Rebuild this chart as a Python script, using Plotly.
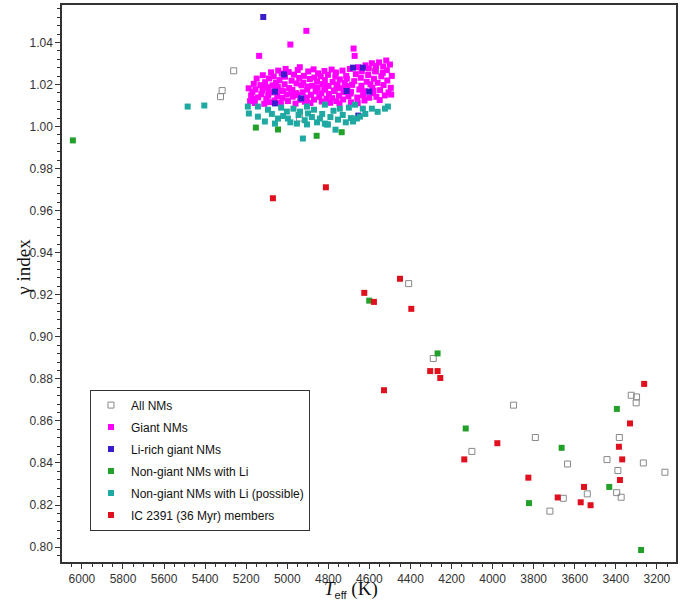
import plotly.graph_objects as go

# ---------------- data ----------------
all_teff = [5261, 5317, 5325, 4570, 4940, 4770, 4409, 4289, 3898, 3792, 4101, 3635, 3721, 3656,
            3539, 3443, 3383, 3390, 3396, 3374, 3325, 3299, 3301, 3266, 3161]
all_gamma = [1.0265, 1.0171, 1.0142, 1.0267, 1.0040, 1.0170, 0.9253, 0.8897, 0.8675, 0.8521, 0.8455,
             0.8395, 0.8171, 0.8232, 0.8253, 0.8416, 0.8521, 0.8364, 0.8259, 0.8237, 0.8722, 0.8714,
             0.8686, 0.8400, 0.8356]

giant_teff = [
    5188, 5176, 5181, 5163, 5170, 5158, 5149, 5155, 5142, 5137,
    5131, 5126, 5119, 5112, 5121, 5108, 5102, 5097, 5089, 5093,
    5084, 5079, 5072, 5081, 5066, 5061, 5055, 5058, 5049, 5044,
    5038, 5046, 5031, 5027, 5020, 5024, 5013, 5008, 5003, 5011,
    4997, 4991, 4985, 4993, 4979, 4973, 4967, 4975, 4960, 4955,
    4949, 4957, 4942, 4937, 4931, 4939, 4925, 4919, 4914, 4922,
    4907, 4903, 4898, 4905, 4890, 4885, 4879, 4887, 4872, 4868,
    4862, 4870, 4855, 4850, 4844, 4852, 4837, 4832, 4826, 4834,
    4819, 4815, 4809, 4817, 4802, 4797, 4791, 4799, 4784, 4779,
    4773, 4781, 4766, 4761, 4755, 4763, 4748, 4744, 4738, 4746,
    4731, 4726, 4720, 4728, 4713, 4708, 4702, 4710, 4695, 4690,
    4684, 4692, 4677, 4672, 4666, 4674, 4659, 4655, 4649, 4657,
    4642, 4637, 4631, 4639, 4624, 4619, 4613, 4621, 4606, 4601,
    4595, 4603, 4588, 4584, 4578, 4586, 4571, 4566, 4560, 4568,
    4553, 4548, 4542, 4550, 4535, 4531, 4525, 4533, 4518, 4513,
    4507, 4515, 4500, 4496, 4491, 4494, 5160, 5090, 4980, 4860,
    4760, 4640, 4900, 5030, 4820, 4710, 4580, 5110, 4950, 4690,
]
giant_gamma = [
    1.0182, 1.0148, 1.0121, 1.0203, 1.0165, 1.0112, 1.0228, 1.0176, 1.0139, 1.0336,
    1.0197, 1.0153, 1.0244, 1.0108, 1.0172, 1.0211, 1.0131, 1.0187, 1.0229, 1.0147,
    1.0116, 1.0258, 1.0196, 1.0162, 1.0238, 1.0124, 1.0207, 1.0178, 1.0145, 1.0266,
    1.0221, 1.0189, 1.0113, 1.0252, 1.0168, 1.0136, 1.0201, 1.0274, 1.0152, 1.0237,
    1.0121, 1.0183, 1.0390, 1.0259, 1.0218, 1.0142, 1.0247, 1.0174, 1.0109, 1.0205,
    1.0269, 1.0159, 1.0231, 1.0127, 1.0196, 1.0282, 1.0163, 1.0241, 1.0118, 1.0209,
    1.0455, 1.0176, 1.0262, 1.0138, 1.0226, 1.0151, 1.0194, 1.0112, 1.0272, 1.0233,
    1.0167, 1.0128, 1.0214, 1.0253, 1.0141, 1.0186, 1.0239, 1.0119, 1.0202, 1.0158,
    1.0264, 1.0178, 1.0132, 1.0221, 1.0246, 1.0155, 1.0113, 1.0193, 1.0271, 1.0212,
    1.0169, 1.0135, 1.0238, 1.0121, 1.0199, 1.0257, 1.0147, 1.0224, 1.0182, 1.0110,
    1.0266, 1.0163, 1.0208, 1.0129, 1.0241, 1.0187, 1.0144, 1.0228, 1.0274, 1.0115,
    1.0198, 1.0157, 1.0371, 1.0336, 1.0249, 1.0216, 1.0138, 1.0282, 1.0176, 1.0111,
    1.0232, 1.0263, 1.0149, 1.0194, 1.0124, 1.0291, 1.0213, 1.0168, 1.0245, 1.0137,
    1.0201, 1.0276, 1.0301, 1.0159, 1.0227, 1.0183, 1.0262, 1.0141, 1.0208, 1.0288,
    1.0305, 1.0173, 1.0239, 1.0126, 1.0255, 1.0197, 1.0148, 1.0285, 1.0314, 1.0219,
    1.0162, 1.0268, 1.0295, 1.0184, 1.0241, 1.0152, 1.0132, 1.0168, 1.0160, 1.0180,
    1.0185, 1.0178, 1.0190, 1.0172, 1.0175, 1.0192, 1.0170, 1.0185, 1.0150, 1.0165,
]

lirich_teff = [5117, 5016, 5060, 4932, 5060, 4711, 4601, 4680, 4632, 4654]
lirich_gamma = [1.0521, 1.0248, 1.0166, 1.0134, 1.0110, 1.0169, 1.0166, 1.0280, 1.0280, 1.0052]

li_teff = [6044, 5153, 5045, 4857, 4735, 4601, 4268, 4131, 3664, 3823, 3432, 3395, 3277]
li_gamma = [0.9934, 0.9995, 0.9986, 0.9956, 0.9973, 0.9172, 0.8921, 0.8564, 0.8472, 0.8209,
            0.8286, 0.8657, 0.7986]

poss_teff = [5485, 5404, 5192, 5187, 5143, 5143, 5109, 5094, 5075, 5060, 5045, 5030, 5020, 5002,
             4997, 4985, 4970, 4953, 4945, 4938, 4924, 4915, 4904, 4904, 4899, 4880, 4870, 4855,
             4841, 4830, 4817, 4817, 4808, 4802, 4790, 4775, 4765, 4753, 4744, 4730, 4715, 4700,
             4690, 4680, 4670, 4661, 4646, 4632, 4620, 4588, 4560, 4524, 4510]
poss_gamma = [1.0095, 1.0100, 1.0095, 1.0062, 1.0095, 1.0047, 1.0024, 1.0080, 1.0060, 1.0014,
              1.0038, 1.0090, 1.0050, 1.0071, 1.0038, 1.0020, 1.0085, 1.0014, 1.0055, 1.0071,
              0.9943, 1.0030, 1.0010, 1.0095, 1.0062, 1.0045, 1.0080, 1.0020, 1.0038, 1.0060,
              1.0104, 1.0014, 1.0010, 1.0010, 1.0045, 1.0075, 0.9985, 1.0033, 1.0085, 1.0055,
              1.0020, 1.0090, 1.0040, 1.0024, 1.0104, 1.0038, 1.0047, 1.0085, 1.0060, 1.0085,
              1.0070, 1.0085, 1.0095]

ic_teff = [5070, 4812, 4451, 4625, 4578, 4396, 4304, 4268, 4255, 4529, 3977, 4138, 3826, 3683,
           3571, 3555, 3523, 3385, 3369, 3380, 3331, 3262]
ic_gamma = [0.9659, 0.9711, 0.9276, 0.9209, 0.9166, 0.9133, 0.8837, 0.8837, 0.8804, 0.8746,
            0.8494, 0.8417, 0.8330, 0.8236, 0.8213, 0.8286, 0.8199, 0.8477, 0.8417, 0.8319,
            0.8588, 0.8776]

x_ticks = [6000, 5800, 5600, 5400, 5200, 5000, 4800, 4600, 4400, 4200, 4000, 3800, 3600, 3400, 3200]
y_ticks = [0.80, 0.82, 0.84, 0.86, 0.88, 0.90, 0.92, 0.94, 0.96, 0.98, 1.00, 1.02, 1.04]

# ---------------- figure ----------------
fig = go.Figure()

def add(name, xs, ys, color, open_=False, group="g"):
    if open_:
        marker = dict(symbol="square-open", size=6, color="#888888", line=dict(width=1, color="#888888"))
    else:
        marker = dict(symbol="square", size=6, color=color, line=dict(width=0))
    fig.add_trace(go.Scatter(x=xs, y=ys, mode="markers", name=name, marker=marker,
                             legendgroup=group))

add("All NMs", all_teff, all_gamma, "#888888", open_=True, group="a")
add("Giant NMs", giant_teff, giant_gamma, "#ff00ff", group="b")
add("Li-rich giant NMs", lirich_teff, lirich_gamma, "#3a1ccc", group="c")
add("Non-giant NMs with Li", li_teff, li_gamma, "#23a02a", group="d")
add("Non-giant NMs with Li (possible)", poss_teff, poss_gamma, "#1fa9a2", group="e")
add("IC 2391 (36 Myr) members", ic_teff, ic_gamma, "#e0101e", group="f")

axis_common = dict(
    showline=True, linecolor="#333333", linewidth=1.5, mirror=True,
    ticks="outside", ticklen=5, tickcolor="#333333", tickwidth=1,
    showgrid=False, zeroline=False,
    tickfont=dict(family="Liberation Sans, Arial", size=12, color="#333333"),
)

fig.update_xaxes(range=[6097, 3107], tickvals=x_ticks, ticktext=[str(t) for t in x_ticks],
                 minor=dict(ticks="outside", ticklen=3, dtick=50, tick0=6000, tickcolor="#333333"),
                 **axis_common)
fig.update_yaxes(range=[0.7929, 1.0578], tickvals=y_ticks, ticktext=[f"{t:.2f}" for t in y_ticks],
                 minor=dict(ticks="outside", ticklen=3, dtick=0.004, tick0=0.80, tickcolor="#333333"),
                 **axis_common)

fig.update_layout(
    width=688, height=604,
    margin=dict(l=62, r=12, t=3, b=42),
    paper_bgcolor="white", plot_bgcolor="white",
    showlegend=True,
    legend=dict(x=0.0456, y=0.3095, xanchor="left", yanchor="top",
                bgcolor="white", bordercolor="#333333", borderwidth=1,
                font=dict(family="Liberation Sans, Arial", size=12, color="#111111"),
                traceorder="grouped", tracegroupgap=3),
    annotations=[
        dict(text="γ index", xref="paper", yref="paper", x=-0.062, y=0.53,
             textangle=-90, showarrow=False, xanchor="center", yanchor="middle",
             font=dict(family="Liberation Serif, Times New Roman", size=19, color="#111111")),
        dict(text='<i>T</i><sub><span style="font-family:Liberation Sans;font-size:11px">eff</span></sub> (K)',
             xref="paper", yref="paper", x=0.47, y=-0.05, showarrow=False,
             xanchor="center", yanchor="middle",
             font=dict(family="Liberation Serif, Times New Roman", size=19, color="#111111")),
    ],
)

fig.write_html("out.html")
